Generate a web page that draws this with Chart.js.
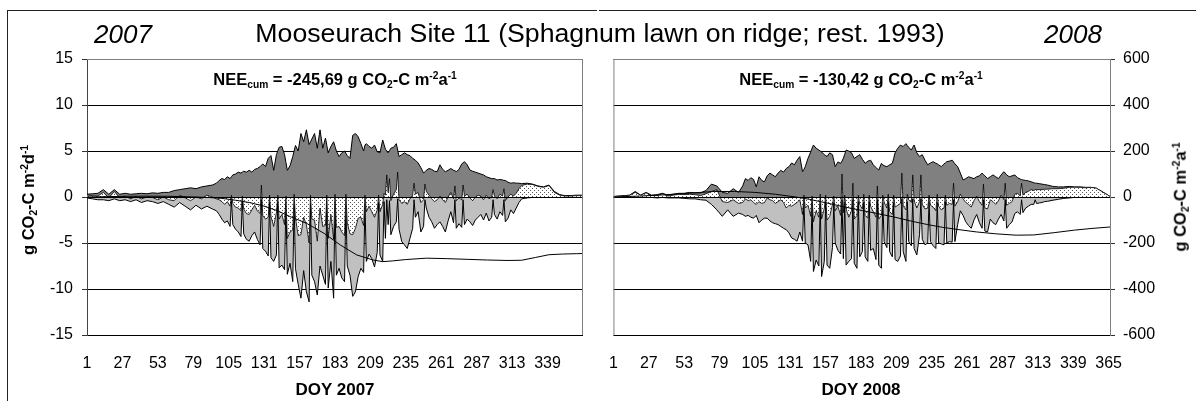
<!DOCTYPE html>
<html>
<head>
<meta charset="utf-8">
<title>Mooseurach Site 11</title>
<script src="https://cdn.jsdelivr.net/npm/chart.js@4.4.1/dist/chart.umd.min.js"></script>
<style>
  html, body { margin: 0; padding: 0; background: #fff; }
  #fig { position: relative; width: 1196px; height: 401px; overflow: hidden;
         font-family: "Liberation Sans", Arial, sans-serif; color: #000; }
  canvas { position: absolute; top: 0; }
  .txt { position: absolute; white-space: nowrap; line-height: 1; }
  .title { font-size: 26.7px; top: 20px; }
  .year { font-style: italic; font-size: 26px; top: 21px; }
  .note { font-weight: bold; font-size: 16.5px; top: 79px; transform: translate(-50%, -50%); }
  .ytitle { font-weight: bold; font-size: 16.5px; transform: translate(-50%, -50%) rotate(-90deg); }
  .xtitle { font-weight: bold; font-size: 17px; top: 389px; transform: translate(-50%, -50%); }
  sub, sup { font-size: 0.62em; line-height: 0; position: relative; vertical-align: baseline; }
  sup { top: -0.6em; }
  sub { top: 0.3em; }
  .frame { position: absolute; background: #222; }
</style>
</head>
<body>
<div id="fig">
  <canvas id="chart2007" width="598" height="401" style="left:0"></canvas>
  <canvas id="chart2008" width="598" height="401" style="left:598px"></canvas>

  <div class="frame" style="left:7px; top:10px; width:590px; height:1px"></div>
  <div class="frame" style="left:599px; top:10px; width:597px; height:1px"></div>
  <div class="frame" style="left:7px; top:10px; width:1px; height:391px"></div>

  <div class="txt title year" style="left:94px">2007</div>
  <div class="txt title" style="left:600px; transform: translateX(-50%)">Mooseurach Site 11 (Sphagnum lawn on ridge; rest. 1993)</div>
  <div class="txt title year" style="left:1044px">2008</div>

  <div class="txt note" style="left:335px">NEE<sub>cum</sub> = -245,69 g CO<sub>2</sub>-C m<sup>-2</sup>a<sup>-1</sup></div>
  <div class="txt note" style="left:861px">NEE<sub>cum</sub> = -130,42 g CO<sub>2</sub>-C m<sup>-2</sup>a<sup>-1</sup></div>

  <div class="txt ytitle" style="left:28px; top:200px">g CO<sub>2</sub>-C m<sup>-2</sup>d<sup>-1</sup></div>
  <div class="txt ytitle" style="left:1180px; top:197px">g CO<sub>2</sub>-C m<sup>-2</sup>a<sup>-1</sup></div>

  <div class="txt xtitle" style="left:335px">DOY 2007</div>
  <div class="txt xtitle" style="left:861px">DOY 2008</div>
</div>

<script>
// daily fluxes in g CO2-C m-2 d-1, cumulative NEE in g CO2-C m-2
const xTicks2007 = [1, 27, 53, 79, 105, 131, 157, 183, 209, 235, 261, 287, 313, 339];
const xTicks2008 = [1, 27, 53, 79, 105, 131, 157, 183, 209, 235, 261, 287, 313, 339, 365];

// ---------- 2007 ----------
const days2007 = [
  1, 5, 9, 13, 17, 21, 25, 29, 33, 37, 41, 45, 49, 53, 57, 61, 65, 69, 73, 77, 81, 85, 89, 93,
  96, 98, 100, 102, 104, 106, 108, 110, 112, 114,
  116, 118, 120, 122, 124, 126, 128, 130, 132, 134,
  136, 138, 140, 142, 144, 146, 148, 150, 152, 154,
  156, 158, 160, 162, 164, 166, 168, 170, 172, 174,
  176, 178, 180, 182, 184, 186, 188, 190, 192, 194,
  196, 198, 200, 202, 204, 206, 208, 210, 212, 214,
  216, 218, 220, 222, 224, 226, 228, 230, 232, 234,
  236, 238, 240, 242, 244, 246, 248, 250, 252, 254,
  256, 258, 260, 262, 264, 266, 268, 270, 272, 274,
  276, 278, 280, 282, 284, 286, 288, 290, 292, 294,
  296, 298, 300, 302, 304, 306, 308, 310, 312, 314,
  316, 318, 320,
  324, 328, 332, 336, 340, 344, 348, 352, 356, 360, 364, 365
];
const reco2007 = [
  0.3, 0.35, 0.4, 0.8, 0.3, 0.8, 0.3, 0.4, 0.3, 0.35, 0.4, 0.35, 0.45, 0.4, 0.5, 0.5, 0.7, 0.8, 0.9, 1.0, 0.9, 1.1, 1.2, 1.3,
  1.5, 1.8, 2.0, 1.9, 2.2, 2.0, 2.4, 2.5, 2.7, 2.6,
  2.8, 2.7, 2.9, 2.7, 3.0, 3.1, 3.3, 3.6, 3.3, 4.2,
  4.5, 2.9, 4.6, 5.4, 5.5, 4.6, 2.9, 3.4, 4.4, 5.6,
  5.0, 6.9, 6.0, 7.3, 5.7, 6.3, 6.9, 5.3, 7.3, 5.3,
  6.4, 4.8, 5.5, 6.0, 5.0, 4.4, 4.8, 5.0, 4.5, 4.2,
  6.7, 6.9, 6.55, 5.8, 5.0, 5.8, 5.5, 5.3, 5.65, 4.9,
  4.8, 6.2, 5.2, 4.8, 5.3, 5.4, 5.8, 4.4, 4.6, 4.8,
  4.6, 4.5, 4.2, 4.0, 3.7, 3.2, 2.6, 2.9, 3.1, 3.0,
  2.8, 2.75, 3.5, 3.0, 2.75, 2.9, 3.1, 2.9, 2.75, 3.0,
  3.6, 3.84, 3.5, 2.93, 2.8, 2.7, 2.6, 2.5, 2.4, 2.2,
  2.1, 2.0, 2.0, 1.85, 1.9, 1.85, 1.8, 1.6, 1.5, 1.55,
  1.5, 1.5, 1.45,
  1.5, 1.4, 1.2, 1.1, 1.3, 0.6, 0.25, 0.15, 0.15, 0.2, 0.2, 0.15
];
const gpp2007 = [
  -0.1, -0.2, -0.3, -0.3, -0.4, -0.2, -0.4, -0.3, -0.5, -0.3, -0.6, -0.4, -0.5, -0.7, -0.5, -0.8, -1.1, -0.6, -1.0, -1.4, -0.9, -1.3, -1.0, -1.3,
  -1.5, -1.9, -2.4, -2.8, -2.6, -3.2, -3.0, -3.5, -3.8, -4.3,
  -4.0, -4.6, -4.8, -4.2, -3.8, -4.6, -5.2, -5.6, -5.9, -6.4,
  -6.6, -7.0, -6.3, -7.7, -7.4, -7.9, -8.4, -7.2, -9.2, -7.8,
  -9.5, -11.0, -8.0, -10.3, -11.4, -8.5, -9.2, -10.65, -7.5, -8.5,
  -9.5, -9.9, -7.0, -11.0, -8.5, -7.75, -8.8, -9.2, -7.5, -8.5,
  -10.8, -10.3, -8.65, -7.75, -8.2, -7.0, -6.2, -6.7, -7.6, -6.0,
  -6.3, -7.0, -4.5, -3.0, -4.1, -3.2, -2.7, -3.5, -4.85, -5.2,
  -5.6, -4.5, -3.4, -2.2, -1.6, -3.8, -3.2, -1.2, -2.2, -2.7,
  -3.4, -3.0, -2.7, -3.2, -3.8, -2.6, -1.6, -2.8, -3.4, -2.9,
  -3.3, -3.0, -2.4, -2.7, -3.1, -2.5, -2.2, -1.9, -2.5, -1.75,
  -2.6, -2.2, -1.9, -2.4, -1.6, -2.0, -2.7, -2.3, -1.4, -1.8,
  -1.2, -0.6, -0.2,
  -0.1, -0.05, -0.05, -0.05, -0.05, -0.05, -0.03, -0.02, -0.02, -0.02, -0.02, -0.02
];
const nee2007 = [
  0.2, 0.15, 0.1, 0.5, -0.1, 0.6, -0.1, 0.1, -0.2, 0.05, -0.2, 0, -0.05, -0.3, 0, -0.3, -0.4, 0.2, -0.1, -0.4, 0, -0.2, 0.2, 0,
  -0.2, -0.3, -0.5, -0.8, -0.5, -1.0, -0.7, -1.1, -1.2, -1.5,
  -1.3, -1.8, -1.9, -1.4, -0.9, -1.5, -1.8, -2.0, -2.4, -2.2,
  -2.1, -3.2, -1.7, -2.4, -1.9, -3.0, -4.5, -3.8, -3.6, -2.3,
  -4.2, -4.1, -2.2, -3.0, -5.0, -2.4, -2.5, -4.8, -1.2, -3.2,
  -3.1, -4.5, -1.9, -4.6, -3.3, -3.2, -3.8, -4.2, -2.8, -4.0,
  -4.1, -3.4, -2.3, -2.2, -3.1, -1.6, -1.0, -1.6, -2.2, -1.4,
  -1.6, -0.8, 0.2, 0.5, -0.4, 0.3, 0.8, -0.3, -0.7, -0.5,
  -0.8, -0.2, 0.2, 0.3, 0.5, -0.6, -0.3, 0.6, 0.2, -0.2,
  -0.5, -0.3, 0.1, -0.3, -0.6, 0.0, 0.5, -0.2, -0.4, -0.1,
  -0.3, 0.1, 0.3, -0.1, -0.4, 0.0, 0.2, 0.1, -0.3, 0.2,
  -0.2, 0.0, 0.1, -0.2, 0.3, 0.1, -0.4, 0.0, 0.3, 0.1,
  0.4, 0.9, 1.25,
  1.4, 1.35, 1.15, 1.05, 1.25, 0.5, 0.2, 0.1, 0.1, 0.15, 0.15, 0.1
];
// single days with an assimilation gap (GPP near zero)
const gapDays2007 = [107, 115, 129, 135, 141, 147, 153, 165, 177, 183, 191, 205, 215, 219, 221, 223, 229, 241, 249, 271, 277, 299, 307];
const gapReco2007 = [2.2, 2.7, 3.45, 4.35, 5.0, 3.75, 5.0, 6.0, 5.6, 5.5, 4.75, 5.65, 4.85, 5.7, 5.0, 5.05, 5.1, 4.1, 2.75, 2.85, 3.7, 2.0, 1.8];
const gapGpp2007 = [-0.4, -0.5, -0.3, -0.6, -0.5, -0.6, -0.8, -0.7, -0.6, -0.4, -0.9, -0.7, -0.6, -0.5, -0.3, -0.4, -0.2, -0.3, -0.3, -0.3, -0.3, -0.3, -0.3];
const gapNee2007 = [0.2, 0.1, 1.3, 0.2, 0.2, 0.1, 0.3, 0.2, 0.2, 0.3, 0.3, 0.2, 0.2, 0.4, 2.4, 2.0, 2.7, 1.5, 1.4, 1.2, 1.3, 0.8, 0.9];

const cumDays2007 = [1, 15, 30, 45, 60, 75, 90, 100, 110, 120, 130, 140, 150, 162, 175, 187, 199, 211, 218, 225, 235, 250, 265, 280, 295, 310, 320, 330, 340, 350, 360, 365];
const cum2007 = [0, 1.5, 3, 3.5, 3, 1, -2, -6, -14, -24, -38, -58, -85, -114, -158, -209, -252, -274, -281, -278, -272, -266, -268, -271, -274, -276, -275, -263, -251, -248, -246.5, -245.69];

// ---------- 2008 ----------
const days2008 = [
  1, 5, 9, 13, 17, 21, 25, 29, 33, 37, 41, 45, 49, 53, 57, 61, 65, 69, 73, 77, 81, 85, 89, 93,
  96, 98, 100, 102, 104, 106, 108, 110, 112, 114,
  116, 118, 120, 122, 124, 126, 128, 130, 132, 134,
  136, 138, 140, 142, 144, 146, 148, 150, 152, 154,
  156, 158, 160, 162, 164, 166, 168, 170, 172, 174,
  176, 178, 180, 182, 184, 186, 188, 190, 192, 194,
  196, 198, 200, 202, 204, 206, 208, 210, 212, 214,
  216, 218, 220, 222, 224, 226, 228, 230, 232, 234,
  236, 238, 240, 242, 244, 246, 248, 250, 252, 254,
  256, 258, 260, 262, 264, 266, 268, 270, 272, 274,
  276, 278, 280, 282, 284, 286, 288, 290, 292, 294,
  296, 298, 300, 302, 304, 306, 308, 310, 312, 314,
  316, 318, 320,
  324, 328, 332, 336, 340, 344, 348, 352, 356, 360, 364, 366
];
const reco2008 = [
  0.05, 0.1, 0.15, 0.2, 0.6, 0.2, 0.5, 0.2, 0.25, 0.4, 0.2, 0.3, 0.4, 0.4, 0.5, 0.45, 0.45, 0.7, 1.4, 1.2, 0.5, 0.4, 0.9, 0.5,
  1.2, 2.0, 1.8, 2.1, 1.9, 1.1, 2.2, 1.8, 1.65, 2.3,
  2.6, 2.4, 2.2, 2.6, 2.9, 2.7, 3.1, 3.3, 3.7, 3.5,
  4.0, 4.4, 2.75, 3.3, 4.2, 4.9, 5.65, 5.3, 5.1, 4.9,
  4.6, 4.4, 4.8, 4.6, 3.3, 3.8, 3.66, 4.2, 5.1, 5.0,
  4.8, 4.2, 4.4, 4.6, 4.1, 3.66, 3.9, 4.0, 3.5, 3.2,
  2.93, 3.66, 3.4, 3.3, 3.5, 3.66, 4.8, 5.3, 5.65, 5.5,
  5.8, 5.4, 5.1, 5.65, 4.8, 4.4, 4.6, 4.0, 3.5, 3.7,
  3.84, 3.66, 3.5, 3.3, 3.6, 3.84, 3.9, 4.0, 3.6, 3.3,
  2.6, 1.85, 2.0, 2.2, 2.1, 2.0, 2.2, 2.3, 2.6, 2.3,
  2.0, 2.2, 2.4, 2.2, 2.0, 2.4, 2.75, 2.4, 2.2, 2.3,
  2.4, 2.1, 1.95, 1.85, 1.8, 1.75, 1.65, 1.55, 1.5, 1.45,
  1.4, 1.35, 1.3,
  1.15, 1.1, 1.1, 1.15, 1.1, 1.1, 1.05, 1.05, 0.95, 0.6, 0.25, 0.05
];
const gpp2008 = [
  0, 0, -0.05, 0, -0.05, 0, -0.05, -0.05, -0.1, -0.05, -0.1, -0.1, -0.1, -0.15, -0.2, -0.2, -0.3, -0.35, -0.8, -1.4, -2.1, -1.4, -2.1, -1.75,
  -1.9, -2.1, -2.0, -2.2, -2.3, -2.0, -2.8, -2.5, -2.3, -2.3,
  -2.6, -2.8, -2.9, -3.0, -3.2, -3.4, -3.55, -3.9, -4.45, -4.6,
  -4.8, -3.8, -4.8, -5.0, -5.2, -7.0, -8.1, -6.85, -7.5, -8.65,
  -7.0, -7.4, -7.75, -5.5, -5.0, -5.8, -6.2, -6.7, -7.4, -7.0,
  -6.7, -7.2, -7.75, -6.5, -5.94, -6.5, -7.0, -5.8, -5.6, -6.8,
  -7.4, -7.75, -4.85, -5.5, -5.94, -6.5, -6.8, -7.0, -6.4, -5.94,
  -7.0, -4.85, -5.3, -5.6, -6.3, -4.1, -4.6, -5.2, -5.0, -4.85,
  -5.3, -5.6, -5.0, -5.1, -5.2, -5.0, -4.85, -4.9, -4.85, -3.0,
  -1.5, -2.0, -2.7, -3.1, -3.4, -2.5, -1.9, -2.8, -3.4, -3.7,
  -3.8, -2.4, -2.8, -3.0, -2.4, -1.9, -2.6, -3.4, -3.0, -2.7,
  -1.8, -1.6, -1.9, -1.7, -1.2, -1.0, -0.8, -0.8, -0.7, -0.65,
  -0.6, -0.5, -0.47,
  -0.35, -0.25, -0.15, -0.1, -0.05, -0.05, -0.05, 0, 0, 0, 0, 0
];
const nee2008 = [
  0.05, 0.1, 0.1, 0.2, 0.5, 0.2, 0.45, 0.15, 0.15, 0.35, 0.1, 0.2, 0.3, 0.25, 0.3, 0.25, 0.15, 0.35, 0.6, 0.8, -0.5, -0.6, -0.3, -0.7,
  -0.6, -0.2, -0.4, -0.3, -0.6, -0.8, -0.5, -0.7, -0.6, -0.1,
  -0.3, -0.4, -0.7, -0.5, -0.3, -0.6, -1.2, -0.9, -1.0, -0.8,
  -0.6, -0.3, -1.9, -1.2, -0.9, -2.1, -2.7, -1.5, -2.2, -2.4,
  -1.2, -2.5, -2.1, -0.8, -1.5, -1.0, -2.0, -1.7, -1.3, -2.2,
  -1.5, -2.4, -2.0, -0.8, -1.3, -2.0, -2.3, -1.0, -1.6, -2.2,
  -2.4, -2.0, -0.6, -1.2, -1.6, -1.9, -1.1, -0.9, -0.7, -1.0,
  -1.4, -0.3, -0.6, -0.4, -1.2, -0.5, -0.8, -1.3, -1.2, -0.9,
  -1.1, -1.5, -1.0, -1.4, -1.2, -0.9, -0.7, -0.8, -1.0, -0.5,
  0.3, -0.2, -0.6, -0.8, -1.1, -0.4, 0.1, -0.5, -0.9, -1.2,
  -1.3, -0.3, -0.5, -0.8, -0.4, 0.2, -0.3, -0.9, -0.7, -0.5,
  0.3, 0.4, 0.1, 0.2, 0.5, 0.6, 0.8, 0.7, 0.8, 0.8,
  0.8, 0.85, 0.85,
  0.9, 0.9, 0.95, 1.05, 1.05, 1.05, 1.0, 1.05, 0.95, 0.6, 0.25, 0.05
];
const gapDays2008 = [141, 147, 153, 157, 163, 169, 171, 177, 181, 185, 189, 195, 199, 203, 207, 213, 217, 221, 227, 233, 239, 245, 251, 273, 289, 301, 311];
const gapReco2008 = [3.0, 5.3, 5.0, 4.5, 3.95, 3.9, 4.65, 4.5, 4.5, 3.9, 3.95, 3.05, 3.5, 3.4, 4.2, 5.55, 5.6, 5.4, 4.5, 3.6, 3.6, 3.7, 3.8, 2.45, 2.6, 1.9, 1.5];
const gapGpp2008 = [-0.5, -0.6, -0.7, -0.5, -0.6, -0.3, -0.6, -0.3, -0.5, -0.6, -0.5, -0.3, -0.6, -0.5, -0.6, -0.2, -0.5, -0.2, -0.2, -0.5, -0.6, -0.5, -0.3, -0.3, -0.3, -0.3, -0.3];
const gapNee2008 = [0.2, 0.1, 0.3, 0.2, 0.1, 2.5, 0.2, 1.5, 0.2, 0.3, 0.2, 1.2, 0.2, 0.3, 0.2, 2.6, 0.3, 2.4, 2.4, 0.2, 0.3, 0.2, 1.5, 1.4, 1.5, 1.5, 0.8];

const cumDays2008 = [1, 20, 40, 60, 75, 90, 105, 120, 135, 145, 157, 170, 183, 195, 208, 220, 232, 243, 255, 268, 282, 297, 310, 325, 340, 352, 366];
const cum2008 = [0, 4, 10, 18, 24, 24, 20, 12, 0, -10, -25, -42, -58, -72, -88, -105, -120, -132, -142, -152, -160, -166, -165, -155, -144, -137, -130.42];

// merge regular days with the gap days into one sorted series
function points(days, vals, extraDays, extraVals) {
  const pts = days.map((d, i) => ({ x: d, y: vals[i] }));
  if (extraDays) extraDays.forEach((d, i) => pts.push({ x: d, y: extraVals[i] }));
  return pts.sort((a, b) => a.x - b.x);
}

function dotPattern(ctx) {
  const c = document.createElement('canvas');
  c.width = 4; c.height = 4;
  const g = c.getContext('2d');
  g.fillStyle = '#fff';
  g.fillRect(0, 0, 4, 4);
  g.fillStyle = '#555';
  g.fillRect(0, 0, 1, 1);
  g.fillRect(2, 2, 1, 1);
  return ctx.createPattern(c, 'repeat');
}

// top border + open side of the plot, and the zero axis over the areas
const plotFrame = {
  id: 'plotFrame',
  afterDatasetsDraw(chart, args, opts) {
    const { ctx, chartArea: a } = chart;
    const y0 = Math.round(chart.scales.y.getPixelForValue(0)) + 0.5;
    ctx.save();
    ctx.lineWidth = 1;
    ctx.strokeStyle = '#000';
    ctx.beginPath();
    ctx.moveTo(a.left, y0);
    ctx.lineTo(a.right, y0);
    ctx.stroke();
    ctx.strokeStyle = '#808080';
    ctx.beginPath();
    ctx.moveTo(a.left, a.top + 0.5);
    ctx.lineTo(a.right, a.top + 0.5);
    const sx = opts.side === 'right' ? a.right - 0.5 : a.left + 0.5;
    ctx.moveTo(sx, a.top);
    ctx.lineTo(sx, a.bottom);
    ctx.stroke();
    ctx.restore();
  }
};

const tickFont = { family: 'Liberation Sans', size: 16 };

function makeChart(id, cfg) {
  const canvas = document.getElementById(id);
  const ctx = canvas.getContext('2d');
  const leftAxis = cfg.axisSide === 'left';

  const gridOpts = {
    color: c => (c.tick && c.tick.value === c.scale.max ? '#808080' : '#000'),
    tickLength: 5,
    tickColor: '#333',
    lineWidth: 1
  };

  return new Chart(ctx, {
    type: 'line',
    data: {
      datasets: [
        {
          label: 'NEE cum',
          data: points(cfg.cumDays, cfg.cum),
          yAxisID: 'y2',
          borderColor: '#000',
          borderWidth: 1,
          fill: false,
          order: 0
        },
        {
          label: 'NEE',
          data: points(cfg.days, cfg.nee, cfg.gapDays, cfg.gapNee),
          yAxisID: 'y',
          borderColor: '#000',
          borderWidth: 0.8,
          backgroundColor: dotPattern(ctx),
          fill: 'origin',
          order: 1
        },
        {
          label: 'GPP',
          data: points(cfg.days, cfg.gpp, cfg.gapDays, cfg.gapGpp),
          yAxisID: 'y',
          borderColor: '#000',
          borderWidth: 1,
          backgroundColor: '#c0c0c0',
          fill: 'origin',
          order: 2
        },
        {
          label: 'Reco',
          data: points(cfg.days, cfg.reco, cfg.gapDays, cfg.gapReco),
          yAxisID: 'y',
          borderColor: '#000',
          borderWidth: 1,
          backgroundColor: '#808080',
          fill: 'origin',
          order: 3
        }
      ]
    },
    options: {
      responsive: false,
      animation: false,
      events: [],
      layout: { padding: cfg.padding },
      elements: {
        point: { radius: 0 },
        line: { tension: 0 }
      },
      plugins: {
        legend: { display: false },
        tooltip: { enabled: false },
        filler: { drawTime: 'beforeDatasetDraw' },
        plotFrame: { side: leftAxis ? 'right' : 'left' }
      },
      scales: {
        x: {
          type: 'linear',
          min: 1,
          max: cfg.lastDay,
          grid: { display: false },
          border: { display: false },
          afterBuildTicks: s => { s.ticks = cfg.xTicks.map(v => ({ value: v })); },
          afterFit: s => { s.height = 66; },
          ticks: { font: tickFont, color: '#000', padding: 11, maxRotation: 0, autoSkip: false }
        },
        y: {
          position: 'left',
          display: leftAxis,
          min: -15,
          max: 15,
          grid: gridOpts,
          border: { color: '#444' },
          // hidden axes must not take any room
          afterFit: s => { s.width = leftAxis ? 87 : 0; },
          ticks: { stepSize: 5, font: tickFont, color: '#000', padding: 9 }
        },
        y2: {
          position: 'right',
          display: !leftAxis,
          min: -600,
          max: 600,
          grid: gridOpts,
          border: { color: '#808080' },
          afterFit: s => { s.width = leftAxis ? 0 : 86; },
          ticks: { stepSize: 200, font: tickFont, color: '#000', padding: 8 }
        }
      }
    },
    plugins: [plotFrame]
  });
}

makeChart('chart2007', {
  axisSide: 'left',
  lastDay: 365,
  xTicks: xTicks2007,
  padding: { left: 0, right: 15, top: 59, bottom: 0 },
  days: days2007, reco: reco2007, gpp: gpp2007, nee: nee2007,
  gapDays: gapDays2007, gapReco: gapReco2007, gapGpp: gapGpp2007, gapNee: gapNee2007,
  cumDays: cumDays2007, cum: cum2007
});

makeChart('chart2008', {
  axisSide: 'right',
  lastDay: 366,
  xTicks: xTicks2008,
  padding: { left: 14, right: 0, top: 59, bottom: 0 },
  days: days2008, reco: reco2008, gpp: gpp2008, nee: nee2008,
  gapDays: gapDays2008, gapReco: gapReco2008, gapGpp: gapGpp2008, gapNee: gapNee2008,
  cumDays: cumDays2008, cum: cum2008
});
</script>
</body>
</html>
